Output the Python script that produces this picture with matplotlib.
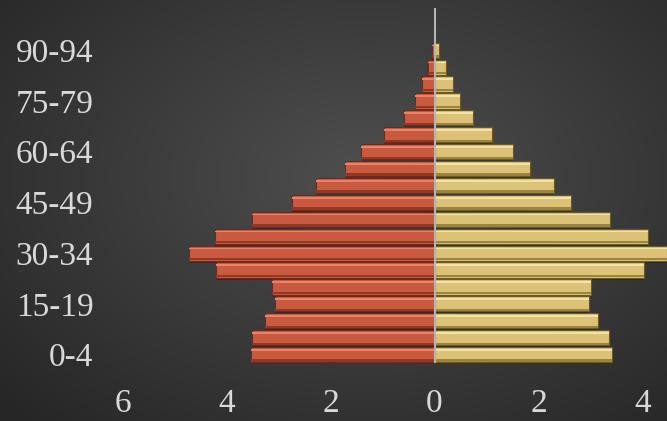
import numpy as np
import matplotlib
matplotlib.use("Agg")
import matplotlib.pyplot as plt

# age groups, bottom to top
ages = ["0-4", "5-9", "10-14", "15-19", "20-24", "25-29", "30-34", "35-39",
        "40-44", "45-49", "50-54", "55-59", "60-64", "65-69", "70-74",
        "75-79", "80-84", "85-89", "90-94", "95-99", "100+"]
# percent of population (left series plotted as negative)
left_vals = [3.53, 3.51, 3.26, 3.07, 3.13, 4.20, 4.72, 4.22, 3.51, 2.74, 2.28,
             1.72, 1.41, 0.98, 0.58, 0.37, 0.25, 0.12, 0.04, 0.0, 0.0]
right_vals = [3.41, 3.36, 3.15, 2.97, 3.00, 4.02, 4.47, 4.11, 3.38, 2.63, 2.29,
              1.84, 1.50, 1.11, 0.74, 0.49, 0.36, 0.22, 0.09, 0.0, 0.0]
xticks = [-6, -4, -2, 0, 2, 4]

W, H = 667, 421
fig = plt.figure(figsize=(W / 100, H / 100), dpi=100)

# dark radial background
bg = fig.add_axes([0, 0, 1, 1], zorder=-5)
yy, xx = np.mgrid[0:1:200j, 0:1:300j]
r = np.sqrt(((xx - 0.55) / 0.75) ** 2 + ((yy - 0.42) / 0.8) ** 2)
shade = np.clip(0.31 - 0.16 * r, 0.15, 0.31)
bg.imshow(np.dstack([shade] * 3), aspect="auto", extent=[0, 1, 0, 1], origin="upper")
bg.axis("off")

ax = fig.add_axes([110 / W, (H - 363) / H, (W - 110) / W, 355 / H])
ax.set_facecolor("none")

y = np.arange(len(ages))
lv = -np.array(left_vals)
rv = np.array(right_vals)
h = 0.9

def bevel_bars(vals, fill, light, dark, edge):
    # soft shadow
    ax.barh(y - 0.12, vals, height=h, left=0, color="black", alpha=0.25,
            zorder=1, linewidth=0)
    ax.barh(y, vals, height=h, color=fill, edgecolor=edge, linewidth=0.8, zorder=2)
    ax.barh(y + 0.28, vals, height=0.1, color=light, linewidth=0, zorder=3)
    ax.barh(y - 0.36, vals, height=0.14, color=dark, linewidth=0, zorder=3)

bevel_bars(lv, "#C95A40", "#E8836A", "#8E3A26", "#6E2A1A")
bevel_bars(rv, "#DCC277", "#F3E2A6", "#9A8442", "#6A5A28")

ax.axvline(0, color="#b4b4b4", lw=1.5, zorder=4)

ax.set_xlim(-(434.5 - 110) / 52, (W - 434.5) / 52)
ax.set_ylim(-0.5, len(ages) - 0.5)

ax.set_xticks(xticks)
ax.set_xticklabels([str(abs(t)) for t in xticks])
ax.set_yticks(y[::3])
ax.set_yticklabels(ages[::3])

for s in ax.spines.values():
    s.set_visible(False)
ax.tick_params(axis="both", length=0, colors="#d9d9d9", labelsize=24)
ax.tick_params(axis="y", pad=12)
ax.tick_params(axis="x", pad=18)
for lab in ax.get_xticklabels() + ax.get_yticklabels():
    lab.set_fontfamily("Liberation Serif")

fig.savefig("out.png", dpi=100)
